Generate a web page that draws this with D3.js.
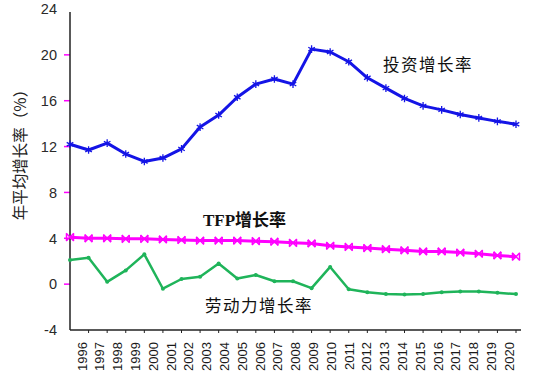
<!DOCTYPE html>
<html><head><meta charset="utf-8">
<script src="https://cdn.jsdelivr.net/npm/d3@7"></script>
<style>body{margin:0;background:#fff}svg{display:block}</style>
</head><body><svg id="c" width="538" height="382"></svg>
<script>
const years = ["1996","1997","1998","1999","2000","2001","2002","2003","2004","2005","2006","2007","2008","2009","2010","2011","2012","2013","2014","2015","2016","2017","2018","2019","2020"];
const investment = [12.2,11.7,12.3,11.35,10.7,11.0,11.8,13.7,14.75,16.3,17.45,17.9,17.45,20.5,20.25,19.4,18.0,17.1,16.2,15.55,15.2,14.8,14.5,14.2,13.95];
const tfp = [4.1,4.0,4.0,3.95,3.95,3.9,3.85,3.8,3.8,3.8,3.75,3.7,3.6,3.55,3.35,3.25,3.15,3.05,2.95,2.85,2.85,2.75,2.65,2.5,2.4];
const labor = [2.1,2.3,0.2,1.2,2.6,-0.4,0.45,0.65,1.8,0.5,0.8,0.25,0.25,-0.35,1.5,-0.45,-0.7,-0.87,-0.9,-0.87,-0.7,-0.65,-0.65,-0.75,-0.87];
const yTicks = [-4,0,4,8,12,16,20,24];
const seriesNames = ["投资增长率","TFP增长率","劳动力增长率"];
const yTitle = "年平均增长率（%）";

const svg = d3.select("#c");
const x = d3.scalePoint().domain(years).range([70,516]);
const xl = d3.scalePoint().domain(years).range([82,509]);
const y = d3.scaleLinear().domain([-4,24]).range([330,9]);

// y tick marks (magenta) and labels
svg.append("g").selectAll("line").data(yTicks.filter(d=>d>-4 && d<24)).join("line")
  .attr("x1",64).attr("x2",70).attr("y1",d=>y(d)).attr("y2",d=>y(d))
  .attr("stroke","#ff00ff").attr("stroke-width",1.5);
svg.append("g").selectAll("text").data(yTicks).join("text")
  .attr("x",57).attr("y",d=>y(d)).attr("dy","0.36em").attr("text-anchor","end")
  .attr("font-family","Liberation Sans, Arial, sans-serif").attr("font-size",14.5).attr("fill","#2a2a2a")
  .text(d=>d);

// axes lines
svg.append("line").attr("x1",70).attr("x2",70).attr("y1",12).attr("y2",y(-4)).attr("stroke","#222").attr("stroke-width",1.5);
svg.append("line").attr("x1",70).attr("x2",521).attr("y1",y(-4)).attr("y2",y(-4)).attr("stroke","#222").attr("stroke-width",1.5);
svg.append("g").selectAll("line").data(years.slice(1)).join("line")
  .attr("x1",d=>x(d)).attr("x2",d=>x(d)).attr("y1",y(-4)).attr("y2",y(-4)+3)
  .attr("stroke","#222").attr("stroke-width",1);

// x labels
svg.append("g").selectAll("text").data(years).join("text")
  .attr("transform",d=>`translate(${xl(d)},342) rotate(-90)`)
  .attr("dy","0.36em").attr("text-anchor","end")
  .attr("font-family","Liberation Sans, Arial, sans-serif").attr("font-size",13).attr("fill","#1a1a1a")
  .text(d=>d);

// y title
svg.append("text").attr("transform","translate(20,151) rotate(-90)")
  .attr("text-anchor","middle").attr("dy","0.36em")
  .attr("font-family","Noto Sans CJK SC, sans-serif").attr("font-size",15.5).attr("fill","#222")
  .text(yTitle);

const line = d3.line().x((d,i)=>x(years[i])).y(d=>y(d));
function drawSeries(vals,color,width,marker){
  svg.append("path").datum(vals).attr("d",line).attr("fill","none")
    .attr("stroke",color).attr("stroke-width",width).attr("stroke-linejoin","round");
  const g = svg.append("g");
  vals.forEach((v,i)=>{
    const cx=x(years[i]), cy=y(v);
    if(marker==="star"){
      g.append("path").attr("d",d3.symbol(d3.symbolAsterisk,40)()).attr("transform",`translate(${cx},${cy})`)
        .attr("stroke",color).attr("stroke-width",1.3).attr("fill","none");
    } else if(marker==="bow"){
      g.append("path").attr("d",d3.symbol(d3.symbolTimes,40)()).attr("transform",`translate(${cx},${cy})`)
        .attr("stroke",color).attr("stroke-width",1.5).attr("fill","none");
      g.append("line").attr("x1",cx-3.5).attr("x2",cx-3.5).attr("y1",cy-3.5).attr("y2",cy+3.5).attr("stroke",color).attr("stroke-width",1.5);
      g.append("line").attr("x1",cx+3.5).attr("x2",cx+3.5).attr("y1",cy-3.5).attr("y2",cy+3.5).attr("stroke",color).attr("stroke-width",1.5);
    } else {
      g.append("circle").attr("cx",cx).attr("cy",cy).attr("r",2).attr("fill",color);
    }
  });
}
drawSeries(investment,"#1414e6",3,"star");
drawSeries(tfp,"#ff00ff",3,"bow");
drawSeries(labor,"#1fb45a",2.5,"dot");

// series labels
svg.append("text").attr("x",383).attr("y",65).attr("dy","0.36em")
  .attr("font-family","Noto Sans CJK SC, sans-serif").attr("font-size",16.5).attr("fill","#111")
  .attr("letter-spacing",1.5).text(seriesNames[0]);
const t2 = svg.append("text").attr("x",203).attr("y",220).attr("dy","0.36em").attr("fill","#111").attr("font-size",17);
t2.append("tspan").attr("font-family","Liberation Serif, serif").attr("font-weight","bold").text("TFP");
t2.append("tspan").attr("font-family","Noto Sans CJK SC, sans-serif").attr("font-weight","bold").text("增长率");
svg.append("text").attr("x",205).attr("y",306).attr("dy","0.36em")
  .attr("font-family","Noto Sans CJK SC, sans-serif").attr("font-size",16.5).attr("fill","#111")
  .attr("letter-spacing",1.5).text(seriesNames[2]);
</script></body></html>
